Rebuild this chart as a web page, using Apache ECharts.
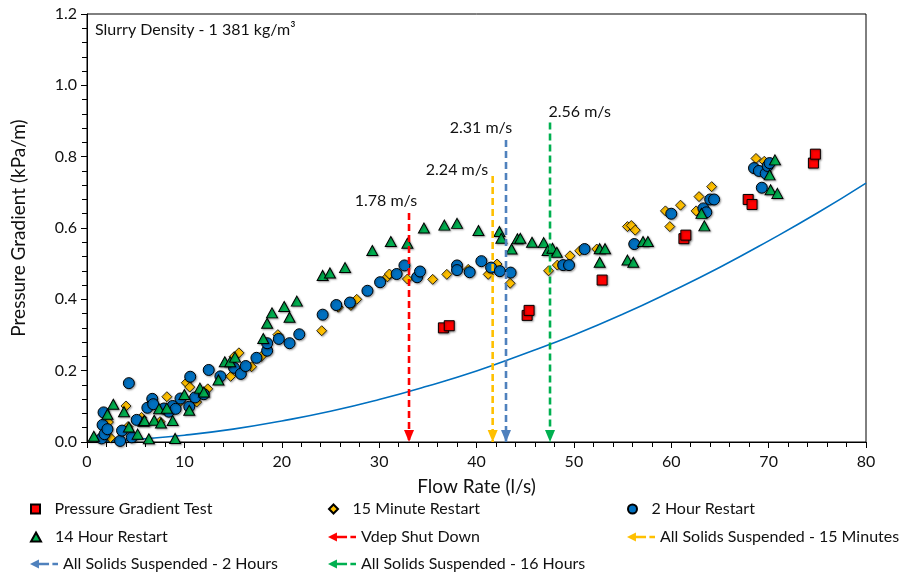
<!DOCTYPE html>
<html>
<head>
<meta charset="utf-8">
<script src="https://cdn.jsdelivr.net/npm/echarts@6/dist/echarts.min.js"></script>
<style>html,body{margin:0;padding:0;background:#fff}#chart{width:899px;height:576px}</style>
</head>
<body>
<div id="chart"></div>
<script>
// ---- data ----
const pressureGradientTest = [[36.6,0.320],[37.2,0.326],[45.2,0.355],[45.4,0.369],[52.9,0.454],[61.3,0.570],[61.5,0.580],[67.9,0.680],[68.3,0.666],[74.6,0.782],[74.8,0.807]];
const restart15min = [[2.2,0.056],[2.4,0.012],[4.0,0.101],[4.2,0.043],[5.6,0.069],[7.5,0.057],[8.2,0.127],[9.55,0.113],[10.2,0.166],[10.55,0.154],[11.26,0.112],[12.4,0.149],[14.75,0.184],[15.1,0.239],[15.6,0.250],[16.9,0.211],[17.9,0.240],[19.6,0.301],[24.1,0.312],[25.8,0.378],[27.1,0.383],[27.7,0.400],[30.85,0.463],[31.05,0.471],[32.9,0.457],[35.5,0.456],[36.95,0.470],[39.15,0.484],[41.2,0.470],[42.1,0.499],[43.45,0.445],[47.4,0.480],[48.3,0.496],[49.6,0.522],[50.6,0.536],[52.35,0.541],[55.5,0.604],[55.9,0.607],[56.3,0.594],[59.4,0.648],[59.85,0.604],[60.95,0.664],[62.55,0.648],[62.85,0.688],[64.15,0.716],[68.7,0.795],[69.55,0.787]];
const restart2hr = [[1.5,0.010],[1.6,0.048],[1.7,0.083],[1.8,0.022],[2.1,0.036],[3.4,0.003],[3.6,0.032],[4.3,0.165],[4.6,0.013],[5.1,0.062],[6.2,0.096],[6.7,0.121],[6.8,0.106],[7.9,0.094],[8.4,0.085],[8.8,0.101],[9.1,0.093],[9.6,0.122],[10.5,0.099],[10.6,0.183],[11.1,0.125],[12.0,0.134],[12.5,0.202],[13.7,0.184],[15.1,0.208],[15.8,0.191],[16.3,0.213],[17.4,0.236],[18.5,0.256],[18.5,0.277],[19.7,0.289],[20.8,0.277],[21.8,0.302],[24.2,0.357],[25.6,0.384],[27.0,0.391],[28.8,0.424],[30.1,0.448],[31.8,0.471],[32.6,0.495],[33.9,0.462],[34.2,0.478],[38.0,0.495],[38.0,0.482],[39.3,0.476],[40.5,0.507],[41.5,0.489],[42.4,0.479],[43.5,0.475],[48.9,0.496],[49.5,0.496],[51.1,0.541],[56.2,0.555],[60.0,0.640],[63.3,0.655],[63.6,0.644],[64.0,0.680],[64.4,0.680],[68.5,0.768],[69.0,0.760],[69.3,0.713],[69.7,0.753],[69.9,0.774],[70.1,0.782]];
const restart14hr = [[0.7,0.016],[2.1,0.078],[2.7,0.106],[3.8,0.085],[4.3,0.042],[5.2,0.022],[5.8,0.058],[5.9,0.060],[6.35,0.009],[6.9,0.061],[7.4,0.093],[7.6,0.053],[8.2,0.095],[8.8,0.060],[9.05,0.010],[10.0,0.133],[10.5,0.089],[11.6,0.151],[12.0,0.140],[13.5,0.174],[14.15,0.225],[14.7,0.225],[15.2,0.238],[18.1,0.290],[18.5,0.333],[19.0,0.362],[20.25,0.380],[20.8,0.350],[21.55,0.395],[24.2,0.467],[24.95,0.474],[26.5,0.489],[29.3,0.537],[31.2,0.562],[32.9,0.557],[34.6,0.600],[36.7,0.608],[38.0,0.613],[40.2,0.593],[42.35,0.590],[42.55,0.571],[43.6,0.541],[44.2,0.570],[44.5,0.571],[45.7,0.560],[46.9,0.559],[47.3,0.537],[47.8,0.543],[48.25,0.532],[52.65,0.542],[53.2,0.542],[52.65,0.504],[55.5,0.510],[56.1,0.504],[57.1,0.562],[57.6,0.562],[63.1,0.641],[63.4,0.606],[70.1,0.749],[70.2,0.707],[70.65,0.791],[70.9,0.697]];
const curveX = [2,5,10,15,20,25,30,35,40,45,50,55,60,65,70,75,80];
const curveY = [0.002,0.007,0.019,0.036,0.059,0.086,0.119,0.157,0.199,0.248,0.300,0.358,0.422,0.490,0.564,0.642,0.726];
const arrowNames = ['Vdep Shut Down','All Solids Suspended - 15 Minutes','All Solids Suspended - 2 Hours','All Solids Suspended - 16 Hours'];
const arrowX = [33.07, 41.66, 43.03, 47.55];
const arrowTop = [0.642, 0.746, 0.847, 0.896];
const arrowColors = ['#FF0000','#FFC000','#4F81BD','#00B050'];
const speedLabels = ['1.78 m/s','2.24 m/s','2.31 m/s','2.56 m/s'];
const speedLabelX = [30.7, 38.0, 40.45, 50.6];
const speedLabelY = [0.676, 0.763, 0.880, 0.925];
const annotation = 'Slurry Density - 1 381 kg/m\u00B3';

const FONT = 'Lato';
const TXT = '#111111';
const shadow = {opacity: 1, shadowBlur: 2, shadowOffsetX: 1, shadowOffsetY: 1, shadowColor: 'rgba(0,0,0,0.35)'};

const series = [];
series.push({
  name: 'curve', type: 'line', smooth: true, showSymbol: false, silent: true,
  data: curveX.map((x, i) => [x, curveY[i]]),
  lineStyle: {color: '#0070C0', width: 1.6}, z: 1
});
series.push({name: 'Pressure Gradient Test', type: 'scatter', symbol: 'rect', symbolSize: 10, data: pressureGradientTest,
  itemStyle: Object.assign({color: '#FF0000', borderColor: '#000', borderWidth: 1}, shadow), z: 2});
series.push({name: '15 Minute Restart', type: 'scatter', symbol: 'diamond', symbolSize: 10, data: restart15min,
  itemStyle: Object.assign({color: '#FFC000', borderColor: '#000', borderWidth: 0.8}, shadow), z: 3});
series.push({name: '2 Hour Restart', type: 'scatter', symbol: 'circle', symbolSize: 11, data: restart2hr,
  itemStyle: Object.assign({color: '#0070C0', borderColor: '#000', borderWidth: 1}, shadow), z: 4});
series.push({name: '14 Hour Restart', type: 'scatter', symbol: 'triangle', symbolSize: [11, 10], data: restart14hr,
  itemStyle: Object.assign({color: '#00B050', borderColor: '#000', borderWidth: 1}, shadow), z: 5});

arrowNames.forEach((nm, i) => {
  series.push({
    name: nm, type: 'line', z: 6, showSymbol: true, silent: true,
    data: [
      {value: [arrowX[i], arrowTop[i]], symbol: 'none'},
      {value: [arrowX[i], 0], symbol: 'triangle', symbolSize: [10, 12], symbolRotate: 180, symbolOffset: [0, -6]}
    ],
    lineStyle: {color: arrowColors[i], width: 2.6, type: [7, 4]},
    itemStyle: {color: arrowColors[i], borderWidth: 0, opacity: 1}
  });
});

series.push({
  name: 'speeds', type: 'scatter', symbolSize: 0, silent: true, z: 7,
  itemStyle: {opacity: 1},
  data: speedLabels.map((t, i) => [speedLabelX[i], speedLabelY[i], t]),
  label: {show: true, position: 'inside', formatter: p => p.value[2], color: TXT, textBorderWidth: 0,
          opacity: 1, fontFamily: FONT, fontSize: 16}
});

const icons = {
  'Pressure Gradient Test': 'path://M0,0H10V10H0Z',
  '15 Minute Restart': 'path://M5,0L10,5L5,10L0,5Z',
  '2 Hour Restart': 'path://M0,5A5,5 0 1,1 10,5A5,5 0 1,1 0,5Z',
  '14 Hour Restart': 'path://M5,0L10,9L0,9Z'
};
const arrowIcon = 'path://M0,4L8,0L8,8Z M8,2.8H17V5.2H8Z M20,2.8H25V5.2H20Z';
const legendLayout = [
  ['Pressure Gradient Test', 30, 510], ['15 Minute Restart', 328, 510], ['2 Hour Restart', 627, 510],
  ['14 Hour Restart', 30, 538], ['Vdep Shut Down', 328, 538], ['All Solids Suspended - 15 Minutes', 627, 538],
  ['All Solids Suspended - 2 Hours', 30, 565], ['All Solids Suspended - 16 Hours', 328, 565]
];
const legends = legendLayout.map(([nm, l, c]) => ({
  data: [{name: nm, icon: icons[nm] || arrowIcon}],
  left: l, top: c - 9, padding: 0, itemWidth: 28, itemHeight: 9, itemGap: 0,
  selectedMode: false, orient: 'horizontal',
  textStyle: {fontFamily: FONT, fontSize: 16, color: TXT}
}));

const chart = echarts.init(document.getElementById('chart'), null, {renderer: 'canvas'});
chart.setOption({
  animation: false,
  backgroundColor: '#fff',
  textStyle: {fontFamily: FONT},
  grid: {left: 87, right: 33, top: 14, bottom: 134, show: true, borderColor: '#000', borderWidth: 1, backgroundColor: 'transparent'},
  xAxis: {
    type: 'value', min: 0, max: 80, interval: 10,
    name: 'Flow Rate (l/s)', nameLocation: 'middle', nameGap: 35,
    nameTextStyle: {fontFamily: FONT, fontSize: 19, color: TXT},
    axisLine: {lineStyle: {color: '#000', width: 1}},
    axisTick: {show: true, inside: false, length: 6, lineStyle: {color: '#000'}},
    minorTick: {show: true, splitNumber: 5, length: 5, lineStyle: {color: '#000'}},
    splitLine: {show: false},
    axisLabel: {fontFamily: FONT, fontSize: 16, color: TXT, margin: 12}
  },
  yAxis: {
    type: 'value', min: 0, max: 1.2, interval: 0.2,
    name: 'Pressure Gradient (kPa/m)', nameLocation: 'middle', nameGap: 59, nameRotate: 90,
    nameTextStyle: {fontFamily: FONT, fontSize: 19, color: TXT},
    axisLine: {show: true, lineStyle: {color: '#000', width: 1}},
    axisTick: {show: true, inside: false, length: 6, lineStyle: {color: '#000'}},
    minorTick: {show: true, splitNumber: 5, length: 5, lineStyle: {color: '#000'}},
    splitLine: {show: false},
    axisLabel: {fontFamily: FONT, fontSize: 16, color: TXT, margin: 10, formatter: v => v.toFixed(1)}
  },
  legend: legends,
  graphic: [{
    type: 'text', left: 95, top: 22,
    style: {text: annotation, fontFamily: FONT, fontSize: 16, fill: TXT}
  }],
  series: series
});
</script>
</body>
</html>
